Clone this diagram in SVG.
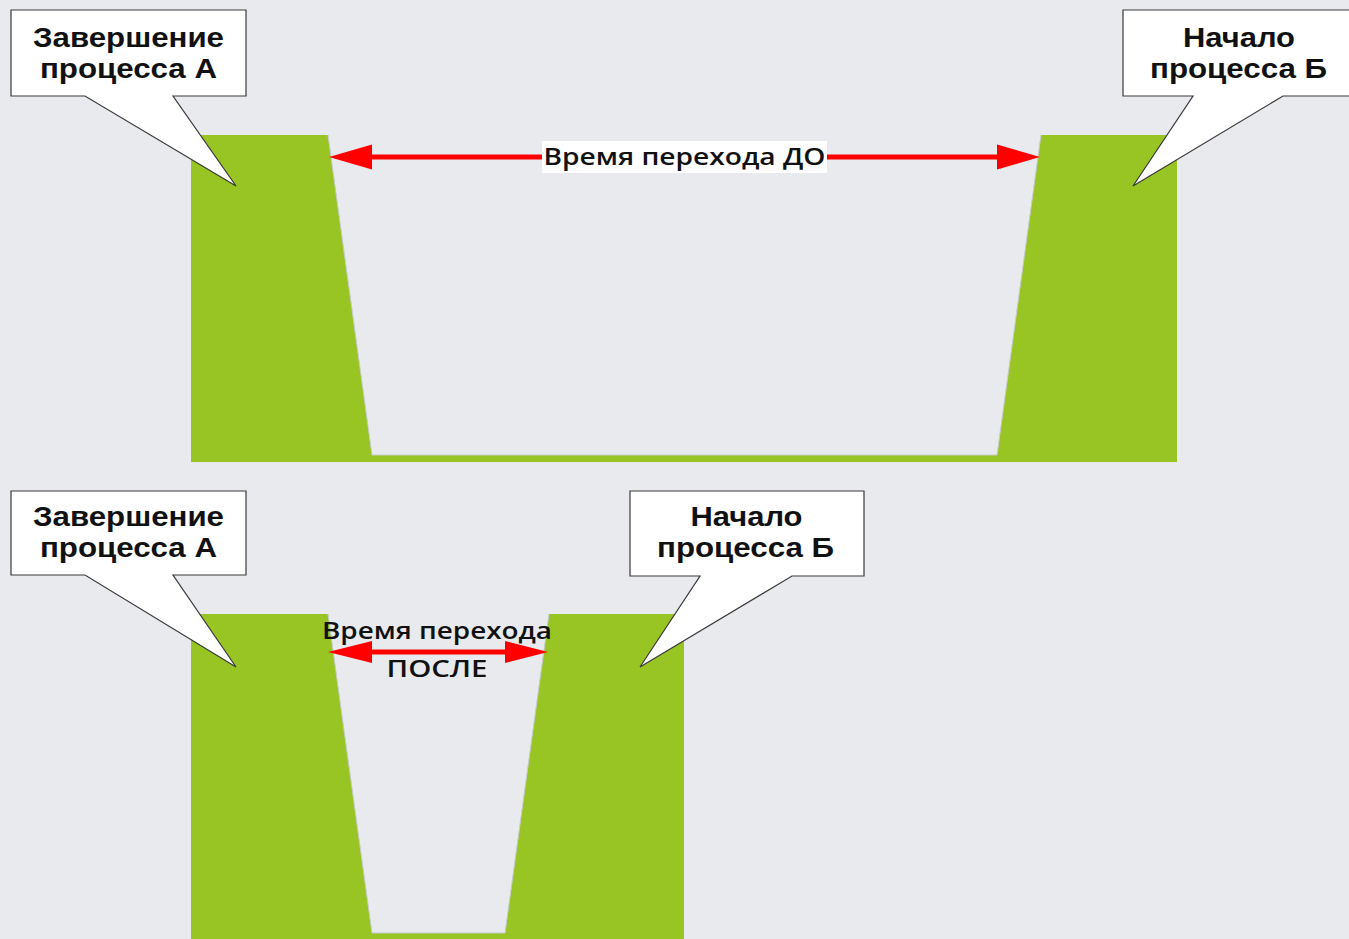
<svg xmlns="http://www.w3.org/2000/svg" width="1349" height="939" viewBox="0 0 1349 939">
  <defs>
    <style>
      .bg { fill: #E9EAEE; }
      .block { fill: #98C523; }
      .gap { fill: #E9EAEE; stroke: none; }
      .gap-edge { fill: none; stroke: #C9CBCF; stroke-width: 1; }
      .callout { fill: #FFFFFF; stroke: #3A3A3A; stroke-width: 1.2; stroke-linejoin: miter; }
      .ctext { font-family: "Liberation Sans", Arial, sans-serif; font-weight: bold; font-size: 28px; fill: #111; text-anchor: middle; }
      .atext { font-family: "Open Sans", "Noto Sans", sans-serif; font-weight: 600; font-size: 23px; fill: #111; text-anchor: middle; }
      .shaft { stroke: #FF0000; stroke-width: 5; fill: none; }
      .head { fill: #FF0000; }
    </style>
  </defs>

  <rect class="bg" x="0" y="0" width="1349" height="939"/>

  <!-- Top scheme: long transition between processes -->
  <g id="before-blocks">
    <rect class="block" x="191" y="135" width="986" height="327"/>
    <polygon class="gap" points="328,134 1041,134 997,455 372,455"/>
    <polyline class="gap-edge" points="328,135 372,455 997,455 1041,135"/>
  </g>

  <!-- Bottom scheme: shortened transition -->
  <g id="after-blocks">
    <rect class="block" x="191" y="614" width="493" height="325"/>
    <polygon class="gap" points="328,613 549,613 505,933 372,933"/>
    <polyline class="gap-edge" points="328,614 372,933 505,933 549,614"/>
  </g>

  <g id="connectors">
    <!-- transition time, before -->
    <line class="shaft" x1="370" y1="157" x2="1000" y2="157"/>
    <polygon class="head" points="329,157 372,144.5 372,169.5"/>
    <polygon class="head" points="1040,157 997,144.5 997,169.5"/>
    <!-- transition time, after -->
    <line class="shaft" x1="370" y1="652" x2="507" y2="652"/>
    <polygon class="head" points="328,652 372,641 372,663"/>
    <polygon class="head" points="548,652 505,641 505,663"/>
  </g>

  <g id="label-before">
    <rect x="542" y="141" width="285" height="32" fill="#FFFFFF"/>
    <text class="atext" x="684.5" y="165" textLength="282" lengthAdjust="spacingAndGlyphs">Время перехода ДО</text>
  </g>

  <g id="label-after">
    <text class="atext" x="437" y="639" textLength="230" lengthAdjust="spacingAndGlyphs">Время перехода</text>
    <text class="atext" x="437" y="677" textLength="101" lengthAdjust="spacingAndGlyphs">ПОСЛЕ</text>
  </g>

  <g id="callout-a-top">
    <polygon class="callout" points="11,10 246,10 246,96 173,96 236,186 85,96 11,96"/>
    <text class="ctext" x="128.5" y="47" textLength="191" lengthAdjust="spacingAndGlyphs">Завершение</text>
    <text class="ctext" x="128.5" y="78" textLength="177" lengthAdjust="spacingAndGlyphs">процесса А</text>
  </g>

  <g id="callout-b-top">
    <polygon class="callout" points="1123,10 1352,10 1352,96 1283,96 1133,186 1193,96 1123,96"/>
    <text class="ctext" x="1239" y="47" textLength="112" lengthAdjust="spacingAndGlyphs">Начало</text>
    <text class="ctext" x="1238.5" y="78" textLength="177" lengthAdjust="spacingAndGlyphs">процесса Б</text>
  </g>

  <g id="callout-a-bottom">
    <polygon class="callout" points="11,491 246,491 246,575 173,575 236,667 85,575 11,575"/>
    <text class="ctext" x="128.5" y="526" textLength="191" lengthAdjust="spacingAndGlyphs">Завершение</text>
    <text class="ctext" x="128.5" y="557" textLength="177" lengthAdjust="spacingAndGlyphs">процесса А</text>
  </g>

  <g id="callout-b-bottom">
    <polygon class="callout" points="630,491 864,491 864,576 792,576 640,667 700,576 630,576"/>
    <text class="ctext" x="746.5" y="526" textLength="112" lengthAdjust="spacingAndGlyphs">Начало</text>
    <text class="ctext" x="745.5" y="557" textLength="177" lengthAdjust="spacingAndGlyphs">процесса Б</text>
  </g>
</svg>
